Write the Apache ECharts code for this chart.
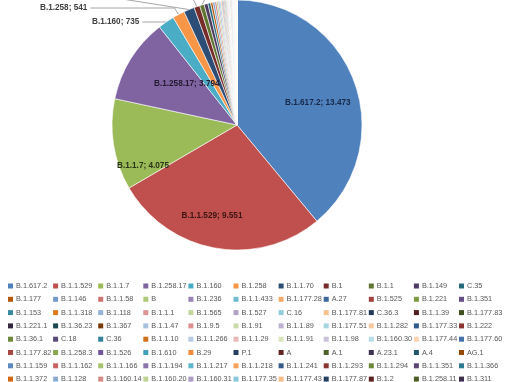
<!DOCTYPE html>
<html><head><meta charset="utf-8">
<script src="https://cdn.jsdelivr.net/npm/echarts@6/dist/echarts.min.js"></script>
<style>html,body{margin:0;padding:0;background:#fff}#c{width:510px;height:382px}</style>
</head><body><div id="c"></div>
<script>
const categories = [
 'B.1.617.2','B.1.1.529','B.1.1.7','B.1.258.17','B.1.160','B.1.258','B.1.1.70','B.1','B.1.1','B.1.149','C.35',
 'B.1.177','B.1.146','B.1.1.58','B','B.1.236','B.1.1.433','B.1.177.28','A.27','B.1.525','B.1.221','B.1.351',
 'B.1.153','B.1.1.318','B.1.118','B.1.1.1','B.1.565','B.1.527','C.16','B.1.177.81','C.36.3','B.1.1.39','B.1.177.83',
 'B.1.221.1','B.1.36.23','B.1.367','B.1.1.47','B.1.9.5','B.1.91','B.1.1.89','B.1.177.51','B.1.1.282','B.1.177.33','B.1.222',
 'B.1.36.1','C.18','C.36','B.1.1.10','B.1.1.266','B.1.1.29','B.1.1.91','B.1.1.98','B.1.160.30','B.1.177.44','B.1.177.60',
 'B.1.177.82','B.1.258.3','B.1.526','B.1.610','B.29','P.1','A','A.1','A.23.1','A.4','AG.1',
 'B.1.1.159','B.1.1.162','B.1.1.166','B.1.1.194','B.1.1.217','B.1.1.218','B.1.1.241','B.1.1.293','B.1.1.294','B.1.1.351','B.1.1.366',
 'B.1.1.372','B.1.128','B.1.160.14','B.1.160.20','B.1.160.31','B.1.177.35','B.1.177.43','B.1.177.87','B.1.2','B.1.258.11','B.1.311'
];
const values = [
 13473,9551,4075,3794,735,541,480,260,200,170,120,
 100,90,80,70,60,55,50,45,42,40,38,
 35,32,30,28,26,24,22,20,18,17,16,
 15,14,13,12,11,10,9,9,8,8,7,
 7,6,6,6,5,5,5,5,4,4,4,
 4,4,3,3,3,3,3,3,2,2,2,
 2,2,2,2,2,2,2,2,2,2,2,
 1,1,1,1,1,1,1,1,1,1,1
];
const colors = [
 '#4F81BD','#C0504D','#9BBB59','#8064A2','#4BACC6','#F79646','#2C4D75','#772C2A','#5F7530','#4D3B62','#276A7C',
 '#B65708','#729ACA','#CD7371','#AFC97A','#9983B5','#6FBDD1','#F9AB6B','#3A679C','#A2413F','#7E9A45','#664F86',
 '#3A8C9F','#E07A1F','#95B3D7','#D99694','#C3D69B','#B3A2C7','#93CDDD','#FAC090','#1F3654','#4F1E1D','#404F20',
 '#33283F','#1A4752','#7A3A05','#A6C0DE','#DC8F8E','#CBDCA8','#BDB0D2','#A5D6E2','#FBC9A0','#2E5A8E','#8E3533',
 '#71893E','#5A4878','#32849A','#D0711C','#B7CCE4','#E6B9B8','#D7E4BD','#CCC1DA','#B7DEE8','#FCD5B5','#4472A8',
 '#A94744','#88A64F','#72589A','#43A0B8','#F48B3B','#254061','#632523','#4F6228','#3F3151','#205867','#974806',
 '#5E8AC2','#C76462','#A6C36D','#8D74AC','#5FB5CC','#F8A15A','#345B89','#8B3532','#6E883B','#5A4573','#2E7C90',
 '#D26812','#8AACD3','#D68B89','#BDD495','#AD9CC5','#88C8DA','#FABB85','#24415F','#5A201F','#4C5E25','#3E2F4F'
];
const labelColors = ['#17294A','#3D1514','#2A3318','#241B30'];

const CX = 237, CY = 125, R = 125;
const total = values.reduce((a,b)=>a+b,0);
const cum = [];
values.reduce((a,v,i)=>{cum[i]=a; return a+v;},0);
// label placement inside slice: fraction along the slice's arc and fraction of radius
const insideFrac = [0.533, 0.554, 0.16, 0.69];
const insideK = [0.67, 0.755, 0.82, 0.52];
function angleAt(i, f){ return (cum[i] + values[i]*f) / total * 2 * Math.PI; }
const fmt = v => v >= 1000 ? Math.floor(v/1000) + '.' + String(v%1000).padStart(3,'0') : String(v);

const chart = echarts.init(document.getElementById('c'));
const data = categories.map((n,i)=>{
  const d = {name:n, value:values[i], itemStyle:{color:colors[i]}};
  if (i < 4) {
    d.label = {show:true, position:'inside', color:labelColors[i]};
  } else if (i < 9) {
    d.label = {show:true, position:'outside', color:'#404040'};
    d.labelLine = {show:true};
  } else {
    d.label = {show:false};
    d.labelLine = {show:false};
  }
  return d;
});

// outside label placement (label text left/middle) and leader-line bend
const outsidePos = {4:{x:92,y:22}, 5:{x:40,y:8}};
const offCanvas = {6:[[122,-1],[60,-1]], 7:[[192,-3],[150,-3]], 8:[[206,-3],[170,-3]]};

const legends = categories.map((n,i)=>({
  show:true, data:[n], left: 8 + (i%11)*45.1, top: 282.5 + Math.floor(i/11)*13.3,
  itemWidth:5, itemHeight:5, itemGap:0, icon:'rect', selectedMode:false,
  itemStyle:{borderWidth:0},
  textStyle:{fontSize:7.3, color:'#595959', fontFamily:'Liberation Sans', padding:[0,0,0,-2]},
  padding:0
}));

chart.setOption({
  animation:false,
  color: colors,
  legend: legends,
  series:[{
    type:'pie', center:[CX,CY], radius:R, startAngle:90, clockwise:true,
    avoidLabelOverlap:false,
    itemStyle:{borderColor:'#fff', borderWidth:0.6},
    label:{show:false, formatter:p=>p.name+'; '+fmt(p.value), fontSize:8.2, fontWeight:'bold', fontFamily:'Liberation Sans'},
    labelLine:{show:false, length:8, length2:10, lineStyle:{color:'#A6A6A6', width:1}},
    emphasis:{disabled:true},
    labelLayout: function(p){
      const i = p.dataIndex;
      if (i < 4) {
        const a = angleAt(i, insideFrac[i]);
        return {x: CX + insideK[i]*R*Math.sin(a), y: CY - insideK[i]*R*Math.cos(a), align:'center', verticalAlign:'middle'};
      }
      const anchor = p.labelLinePoints ? p.labelLinePoints[0] : [CX,CY-R];
      if (outsidePos[i]) {
        const pos = outsidePos[i];
        const endX = pos.x + p.labelRect.width + 3;
        return {x:pos.x, y:pos.y, align:'left', verticalAlign:'middle',
          labelLinePoints:[anchor, [anchor[0]-4, pos.y], [endX, pos.y]]};
      }
      if (offCanvas[i]) {
        return {x:0, y:-40, align:'left', verticalAlign:'middle',
          labelLinePoints:[anchor, offCanvas[i][0], offCanvas[i][1]]};
      }
      return {};
    },
    data: data
  }]
});
</script></body></html>
